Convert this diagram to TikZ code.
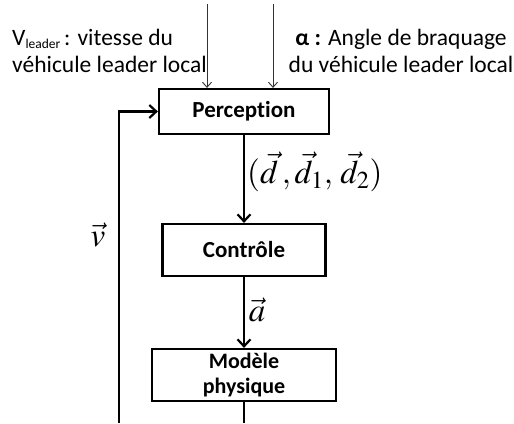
\documentclass[tikz,border=0pt]{standalone}
\usepackage{mathptmx}
\usepackage{fontspec}
\setmainfont{Carlito}[Ligatures={NoCommon,NoRare,NoContextual}]
\usepackage{tikz}
\usetikzlibrary{arrows.meta,positioning}

\newcommand{\indice}[1]{\raisebox{-3pt}{\fontsize{13.5}{14}\selectfont #1}}

\begin{document}
\begin{tikzpicture}[x=1pt, y=-1pt,
  bloc/.style={draw, line width=2.2pt, inner sep=0pt, align=center,
    font=\fontsize{23}{27}\selectfont\bfseries},
  flux/.style={line width=2.2pt, -{Straight Barb[length=7pt, width=13pt, line width=2.2pt]}},
  entree/.style={black!80, line width=0.9pt, -{Straight Barb[length=5pt, width=9pt]}},
  texte/.style={font=\fontsize{23.5}{27}\selectfont, inner sep=0pt},
  maths/.style={font=\fontsize{33}{38}\selectfont, inner sep=0pt}]

\useasboundingbox (0,0) rectangle (514,423);

% === Blocs ===
\node[bloc, minimum width=170pt, minimum height=45pt] (perc) at (244,111.5) {Perception};
\node[bloc, minimum width=163pt, minimum height=52pt] (ctrl) at (244,250) {Contrôle};
\node[bloc, minimum width=184pt, minimum height=52pt,
      font=\fontsize{22}{25.5}\selectfont\bfseries] (modele) at (244,375) {Modèle\\physique};

% === Entrees (haut) ===
\coordinate (vitL) at (207,4);
\coordinate (angL) at (273,4);
\draw[entree] (vitL) -- (vitL |- perc.north);
\draw[entree] (angL) -- (angL |- perc.north);

\node[texte, anchor=north west, align=left] (vLeader) at (12,29)
     {V\indice{leader}\,: vitesse du\\véhicule leader local};
\node[texte, anchor=north, align=center] (alpha) at (401,29)
     {\textbf{α :} Angle de braquage\\du véhicule leader local};

% === Chaine directe ===
\draw[flux] (perc.south) -- (ctrl.north);
\draw[flux] (ctrl.south) -- (modele.north);
\coordinate (sortie) at (244,423);
\draw[line width=2.2pt] (modele.south) -- (sortie);

\node[maths, anchor=west] (dist) at (247,172) {$(\vec{d}\,,\vec{d}_1,\,\vec{d}_2)$};
\node[maths] (acc) at (257,310) {$\vec{a}$};

% === Retour ===
\coordinate (retour) at (119,423);
\draw[flux] (retour) |- (perc.west);
\node[maths] (vit) at (98,235) {$\vec{v}$};

\end{tikzpicture}
\end{document}
